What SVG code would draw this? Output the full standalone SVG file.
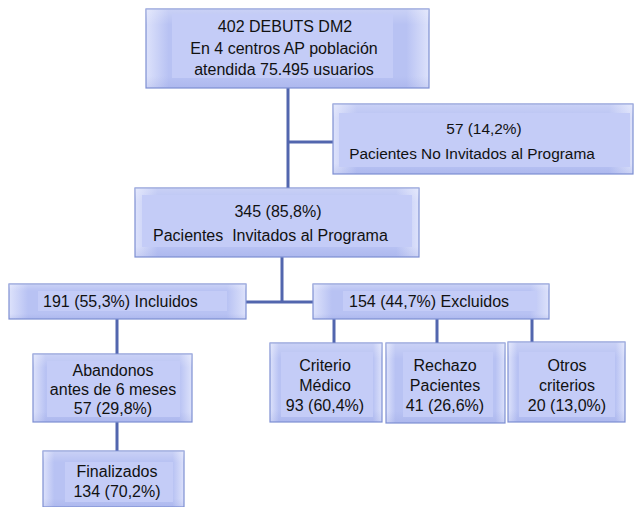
<svg xmlns="http://www.w3.org/2000/svg" width="638" height="507" viewBox="0 0 638 507">
<defs>
<linearGradient id="g" x1="0" y1="0" x2="1" y2="0">
<stop offset="0" stop-color="#dde2fb"/>
<stop offset="0.08" stop-color="#b8c2f3"/>
<stop offset="0.92" stop-color="#b8c2f3"/>
<stop offset="1" stop-color="#dde2fb"/>
</linearGradient>
<linearGradient id="gv" x1="0" y1="0" x2="0" y2="1">
<stop offset="0" stop-color="#ffffff" stop-opacity="0.25"/>
<stop offset="0.2" stop-color="#ffffff" stop-opacity="0"/>
<stop offset="0.85" stop-color="#7080d0" stop-opacity="0"/>
<stop offset="1" stop-color="#7080d0" stop-opacity="0.15"/>
</linearGradient>
</defs>
<style>
.box{fill:url(#g);stroke:#7e8fd3;stroke-width:1.2}
.shade{fill:url(#gv);stroke:none}
.inner{fill:#c4ccf7;stroke:none}
.t{font-family:"Liberation Sans",Arial,sans-serif;font-size:16px;fill:#111}
.s{font-size:15.4px}
.m{text-anchor:middle}
.c{stroke:#5266ae;stroke-width:3;fill:none}
</style>
<rect width="638" height="507" fill="#ffffff"/>
<g id="connectors">
<path class="c" d="M288 88V188M288 142H333"/>
<path class="c" d="M282 257V302M246 302H313"/>
<path class="c" d="M117 319V354M117 422V451"/>
<path class="c" d="M334 319V343M437 319V343M532 319V342"/>
</g>
<g id="n_debuts">
<rect class="box" x="146" y="9" width="283" height="79"/>
<rect class="shade" x="146" y="9" width="283" height="79"/>
<rect class="inner" x="172" y="14" width="221" height="64"/>
<text class="t m" x="285" y="32">402 DEBUTS DM2</text>
<text class="t m" x="284" y="54">En 4 centros AP población</text>
<text class="t m" x="284" y="75">atendida 75.495 usuarios</text>
</g>
<g id="n_noinv">
<rect class="box" x="333" y="104" width="300" height="70"/>
<rect class="shade" x="333" y="104" width="300" height="70"/>
<rect class="inner" x="339" y="113" width="291" height="54"/>
<text class="t m s" x="484" y="134">57 (14,2%)</text>
<text class="t m s" x="472" y="159">Pacientes No Invitados al Programa</text>
</g>
<g id="n_inv">
<rect class="box" x="135" y="188" width="284" height="69"/>
<rect class="shade" x="135" y="188" width="284" height="69"/>
<rect class="inner" x="142" y="195" width="270" height="52"/>
<text class="t m" x="278" y="217">345 (85,8%)</text>
<text class="t" x="153" y="241" xml:space="preserve">Pacientes  Invitados al Programa</text>
</g>
<g id="n_incl">
<rect class="box" x="9" y="284" width="237" height="35"/>
<rect class="shade" x="9" y="284" width="237" height="35"/>
<rect class="inner" x="38" y="291" width="189" height="20"/>
<text class="t" x="43" y="307">191 (55,3%) Incluidos</text>
</g>
<g id="n_excl">
<rect class="box" x="313" y="284" width="236" height="35"/>
<rect class="shade" x="313" y="284" width="236" height="35"/>
<rect class="inner" x="343" y="291" width="194" height="20"/>
<text class="t" x="349" y="307">154 (44,7%) Excluidos</text>
</g>
<g id="n_aband">
<rect class="box" x="33" y="354" width="159" height="68"/>
<rect class="shade" x="33" y="354" width="159" height="68"/>
<rect class="inner" x="47" y="361" width="133" height="56"/>
<text class="t m" x="113" y="376">Abandonos</text>
<text class="t m" x="113" y="395">antes de 6 meses</text>
<text class="t m" x="113" y="414">57 (29,8%)</text>
</g>
<g id="n_final">
<rect class="box" x="43" y="451" width="141" height="56"/>
<rect class="shade" x="43" y="451" width="141" height="56"/>
<rect class="inner" x="65" y="462" width="108" height="40"/>
<text class="t m" x="117" y="477">Finalizados</text>
<text class="t m" x="117" y="497">134 (70,2%)</text>
</g>
<g id="n_medico">
<rect class="box" x="270" y="343" width="112" height="79"/>
<rect class="shade" x="270" y="343" width="112" height="79"/>
<rect class="inner" x="281" y="352" width="92" height="65"/>
<text class="t m" x="325" y="371">Criterio</text>
<text class="t m" x="325" y="391">Médico</text>
<text class="t m" x="325" y="411">93 (60,4%)</text>
</g>
<g id="n_rechazo">
<rect class="box" x="386" y="343" width="119" height="80"/>
<rect class="shade" x="386" y="343" width="119" height="80"/>
<rect class="inner" x="403" y="352" width="90" height="65"/>
<text class="t m" x="445" y="371">Rechazo</text>
<text class="t m" x="445" y="391">Pacientes</text>
<text class="t m" x="445" y="411">41 (26,6%)</text>
</g>
<g id="n_otros">
<rect class="box" x="508" y="342" width="117" height="80"/>
<rect class="shade" x="508" y="342" width="117" height="80"/>
<rect class="inner" x="519" y="352" width="96" height="65"/>
<text class="t m" x="567" y="371">Otros</text>
<text class="t m" x="567" y="391">criterios</text>
<text class="t m" x="567" y="411">20 (13,0%)</text>
</g>
</svg>
